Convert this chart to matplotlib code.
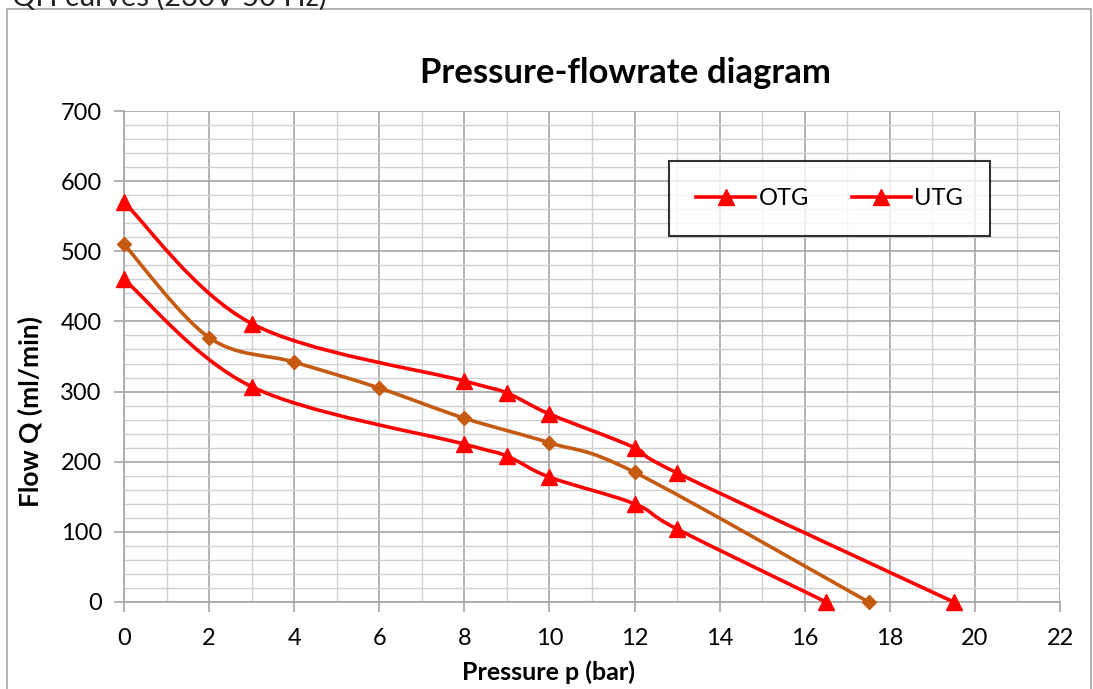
import numpy as np
import matplotlib
matplotlib.use("Agg")
import matplotlib.pyplot as plt
from matplotlib.path import Path
from matplotlib.patches import PathPatch, Rectangle
from matplotlib.lines import Line2D

plt.rcParams['font.family'] = ['Lato', 'DejaVu Sans']

# ============ 数据 ============
p_utg = [0, 3, 8, 9, 10, 12, 13, 19.5]
q_utg = [570, 397, 315, 298, 268, 220, 184, 0]

p_mid = [0, 2, 4, 6, 8, 10, 12, 17.5]
q_mid = [510, 377, 342, 305, 262, 227, 185, 0]

p_otg = [0, 3, 8, 9, 10, 12, 13, 16.5]
q_otg = [460, 307, 225, 208, 178, 140, 104, 0]

x_ticks = list(range(0, 23, 2))
y_ticks = list(range(0, 701, 100))
# ==============================

RED = "#FF0000"
BROWN = "#C55A11"


def smooth_path(xs, ys):
    # Catmull-Rom -> Bezier, wie die geglättete Linie in Excel
    pts = np.column_stack([xs, ys]).astype(float)
    verts = [pts[0]]
    codes = [Path.MOVETO]
    n = len(pts)
    for i in range(n - 1):
        p0 = pts[max(i - 1, 0)]
        p1 = pts[i]
        p2 = pts[i + 1]
        p3 = pts[min(i + 2, n - 1)]
        c1 = p1 + (p2 - p0) / 6.0
        c2 = p2 - (p3 - p1) / 6.0
        verts += [c1, c2, p2]
        codes += [Path.CURVE4] * 3
    return Path(verts, codes)


fig = plt.figure(figsize=(10.93, 6.89), dpi=100)
ax = fig.add_axes([124/1093, 1 - 602/689, 936/1093, 491/689])

# chart border
fig.patches.append(Rectangle((7/1093, -0.05), 1084/1093, 1.05 - 9/689,
                             transform=fig.transFigure, fill=False,
                             edgecolor="#A6A6A6", lw=1.2))

ax.set_xlim(0, 22)
ax.set_ylim(0, 700)
ax.set_xticks(x_ticks)
ax.set_yticks(y_ticks)
ax.set_xticks(range(0, 23), minor=True)
ax.set_yticks(range(0, 701, 20), minor=True)
ax.grid(which="major", color="#A6A6A6", lw=1.2)
ax.grid(which="minor", color="#D0D0D0", lw=1.0)
ax.set_axisbelow(True)
for s in ["top", "right"]:
    ax.spines[s].set_visible(False)
for s in ["left", "bottom"]:
    ax.spines[s].set_color("#A6A6A6")
    ax.spines[s].set_linewidth(1.2)
ax.tick_params(which="major", direction="out", length=7, color="#A6A6A6",
               width=1.2, labelsize=17)
ax.tick_params(axis="x", pad=12)
ax.tick_params(axis="y", pad=9)
ax.tick_params(which="minor", length=0)

for xs, ys, col in [(p_utg, q_utg, RED), (p_mid, q_mid, BROWN), (p_otg, q_otg, RED)]:
    ax.add_patch(PathPatch(smooth_path(xs, ys), fill=False, edgecolor=col,
                           lw=2.6, capstyle="round", joinstyle="round", zorder=3))

ax.plot(p_utg, q_utg, ls="none", marker="^", ms=11, color=RED, zorder=4, clip_on=False)
ax.plot(p_otg, q_otg, ls="none", marker="^", ms=11, color=RED, zorder=4, clip_on=False)
ax.plot(p_mid, q_mid, ls="none", marker="D", ms=7.5, color=BROWN, zorder=4, clip_on=False)

ax.set_xlabel("Pressure p (bar)", fontsize=18, fontweight="bold")
ax.set_ylabel("Flow Q (ml/min)", fontsize=19, fontweight="bold")
ax.xaxis.set_label_coords(0.454, -0.118)
ax.yaxis.set_label_coords(-0.087, 0.389)
fig.text(625/1093, 1 - 73/689, "Pressure-flowrate diagram", fontsize=25,
         fontweight="bold", ha="center", va="center")
fig.text(12/1093, 1 - 6/689, "QH curves (230V 50 Hz)", fontsize=21,
         ha="left", va="baseline", color="#222222")

handles = [Line2D([], [], color=RED, lw=2.6, marker="^", ms=11),
           Line2D([], [], color=RED, lw=2.6, marker="^", ms=11)]
leg = ax.legend(handles, ["OTG", "UTG"], ncol=2, loc="center",
                bbox_to_anchor=(0.754, 0.822), fontsize=17, frameon=True,
                fancybox=False, edgecolor="black", borderpad=1.15,
                handlelength=2.5, columnspacing=1.8, handletextpad=0.15,
                borderaxespad=0)
leg.get_frame().set_linewidth(1.5)

fig.savefig("out.png", dpi=100)
